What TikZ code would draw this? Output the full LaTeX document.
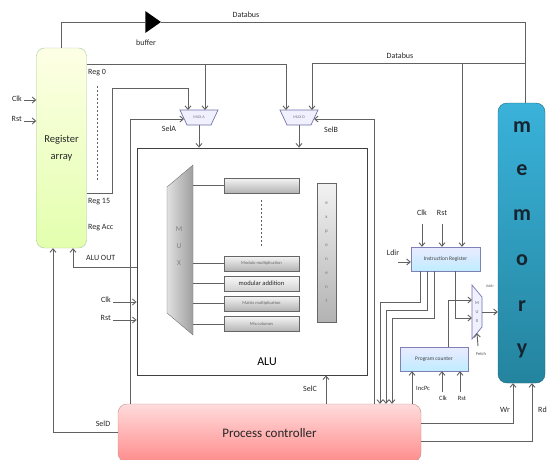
\documentclass[tikz,border=0pt]{standalone}
\usepackage{fontspec}
\setmainfont{Carlito}
\usetikzlibrary{arrows.meta,shapes.geometric}
\definecolor{memtop}{RGB}{58,178,218}
\definecolor{membot}{RGB}{36,132,158}
\definecolor{memtxt}{RGB}{22,36,48}
\begin{document}
\begin{tikzpicture}[x=1pt,y=-1pt,
  line/.style={draw=black!62, line width=0.9pt},
  arr/.style={line, -{Straight Barb[length=3.5pt,width=6pt]}},
  lbl/.style={font=\fontsize{8}{8.5}\selectfont, text=black!85, inner sep=0},
  gbox/.style={draw=black!60, top color=black!4, bottom color=black!30, minimum width=75, minimum height=15, inner sep=0, font=\fontsize{4.5}{5}\selectfont, text=black!60},
  bbox/.style={draw=blue!45!black!50, top color=blue!8, bottom color=blue!30!cyan!25, inner sep=0, font=\fontsize{5.5}{6}\selectfont, text=black!75},
  muxs/.style={draw=blue!40!black!55, fill=blue!6, line width=0.7pt},
]
\useasboundingbox (0,0) rectangle (547,459);

% ---------- main blocks ----------
\node[draw=green!40!black!35, top color=green!6!yellow!10, bottom color=green!35!yellow!32, rounded corners=8, minimum width=50, minimum height=200, inner sep=0, align=center, font=\fontsize{10.5}{17}\selectfont, text=black!85] (reg) at (61.5,148) {Register\\array};

\node[draw=membot!80!black, top color=memtop, bottom color=membot, rounded corners=9, minimum width=47, minimum height=280, inner sep=0] (mem) at (521.5,243) {};
\foreach \l/\yy in {m/127,e/170,m/215,o/260,r/306,y/351}
  \node[font=\bfseries\fontsize{22}{22}\selectfont, text=memtxt] at (522,\yy) {\l};

\node[draw=red!50!black!45, top color=red!14, bottom color=red!45, rounded corners=9, minimum width=303, minimum height=58, inner sep=0, font=\fontsize{13}{14}\selectfont, text=black!85] (ctrl) at (269.5,433) {Process controller};

\node[draw=black!75, line width=0.8pt, minimum width=230, minimum height=227, inner sep=0] (alu) at (252,261.5) {};
\node[font=\fontsize{12}{12}\selectfont] (alulbl) at (267,362) {ALU};

\node[bbox, minimum width=69, minimum height=24] (ir) at (445.5,259) {Instruction Register};
\node[bbox, minimum width=68, minimum height=24] (pcnt) at (434,359) {Program counter};

% buffer
\node[isosceles triangle, isosceles triangle apex angle=70, fill=black, inner sep=0, minimum height=14, minimum width=22] (buf) at (151,22) {};
\node[lbl] at (146,43) {buffer};

% ---------- MUX A / MUX D ----------
\draw[muxs] (180,110) -- (218,110) -- (211,125) -- (187,125) -- cycle;
\node[font=\fontsize{4}{4}\selectfont, text=black!55] (muxA) at (199,117) {MUX A};
\draw[muxs] (280,110) -- (318,110) -- (311,125) -- (287,125) -- cycle;
\node[font=\fontsize{4}{4}\selectfont, text=black!55] (muxD) at (299,117) {MUX D};
\coordinate (muxAin) at (184,119);
\coordinate (muxDin) at (314,119);

% ---------- ALU internals ----------
\draw[draw=black!55, left color=black!12, right color=black!38] (167,187) -- (193,165) -- (193,335) -- (167,313) -- cycle;
\node[align=center, font=\fontsize{7.5}{17}\selectfont, text=black!50] (bigmux) at (179,246) {M\\U\\X};
\coordinate (bmx) at (193,0);

\node[gbox] (tb) at (261.5,185.5) {};
\node[gbox] (mm) at (261.5,263.5) {Modulo multiplication};
\node[gbox, font=\fontsize{6.5}{7}\selectfont, text=black!85, top color=black!2, bottom color=black!18] (ma) at (261.5,283.5) {modular addition};
\node[gbox] (mx) at (261.5,303.5) {Matrix multiplication};
\node[gbox] (mc) at (261.5,324) {Mix columns};
\foreach \b in {tb,mm,ma,mx,mc} \draw[line] (bmx |- \b.west) -- (\b.west);
\draw[line, dashed, dash pattern=on 2pt off 2pt] (261,200) -- (261,246);

\node[draw=black!60, top color=black!5, bottom color=black!30, minimum width=19, minimum height=139, inner sep=0, align=center, font=\fontsize{5}{14}\selectfont, text=black!55] (expo) at (326.5,252.5) {e\\x\\p\\o\\n\\e\\n\\t};

% ---------- address MUX ----------
\draw[muxs] (472,285) -- (482,297) -- (482,327) -- (472,339) -- cycle;
\node[align=center, font=\fontsize{4.5}{9}\selectfont, text=black!60] (amux) at (477,312) {M\\U\\X};
\coordinate (amuxout) at (482,312);
\coordinate (amuxbot) at (477,333);
\node[font=\fontsize{4}{4}\selectfont, text=black!60] at (490,286) {Addr};

% ---------- buses ----------
\coordinate (busR) at (525,22);
\draw[line] (reg.north) |- (buf.west);
\draw[line] (buf.east) -| (mem.north -| busR);
\node[lbl] at (246,15) {Databus};

\coordinate (db2) at (525,63);
\draw[arr] (db2) -| (312,110);
\draw[arr] (462,63) -- (462,0 |- ir.north);
\node[lbl] at (400,56) {Databus};

% register outputs
\draw[arr] (reg.east |- 0,64) -| (286,110);
\draw[arr] (205,64) -- (205,110);
\node[lbl, anchor=west] at (88,73) {Reg 0};
\draw[line, dashed, dash pattern=on 1.5pt off 2.5pt, line width=0.7pt] (97,86) -- (97,182);
\draw[arr] (reg.east |- 0,193) -| (112,88) -| (188,110);
\node[lbl, anchor=west] at (88,202) {Reg 15};
\node[lbl, anchor=west] at (88,228) {Reg Acc};

% MUX outputs
\draw[arr] (199,125) -- (199,0 |- alu.north);
\draw[arr] (299,125) -- (299,0 |- alu.north);

% select lines
\draw[arr] (ctrl.north -| 130,0) |- (muxAin);
\node[lbl] at (169,129) {SelA};
\draw[arr] (ctrl.north -| 374,0) |- (muxDin);
\node[lbl] at (331,130) {SelB};
\draw[arr] (ctrl.north -| 326,0) -- (alu.south -| 326,0);
\node[lbl] at (310,389) {SelC};
\draw[arr] (ctrl.west |- 0,432) -| (53,0 |- reg.south);
\node[lbl] at (103,424) {SelD};

% ALU out
\draw[arr] (alu.west |- 0,267) -| (73,0 |- reg.south);
\node[lbl, anchor=west] at (86,258) {ALU OUT};

% clocks / resets
\draw[arr] (24,100) -- (reg.west |- 0,100);
\node[lbl, anchor=east] at (22,99) {Clk};
\draw[arr] (24,121) -- (reg.west |- 0,121);
\node[lbl, anchor=east] at (22,119) {Rst};
\draw[arr] (113,302) -- (alu.west |- 0,302);
\node[lbl, anchor=east] at (111,300) {Clk};
\draw[arr] (113,320) -- (alu.west |- 0,320);
\node[lbl, anchor=east] at (111,318) {Rst};

% instruction register inputs
\draw[arr] (422,224) -- (422,0 |- ir.north);
\node[lbl] at (422,213) {Clk};
\draw[arr] (442,224) -- (442,0 |- ir.north);
\node[lbl] at (442,213) {Rst};
\draw[arr] (398,262) -- (ir.west |- 0,262);
\node[lbl] at (393,253) {Ldir};

% instruction register to controller
\draw[arr] (420,0 |- ir.south) |- (380,302) -- (380,0 |- ctrl.north);
\draw[arr] (427,0 |- ir.south) |- (386,310) -- (386,0 |- ctrl.north);
\draw[arr] (434,0 |- ir.south) |- (392,318) -- (392,0 |- ctrl.north);

% to address mux
\draw[arr] (455,0 |- ir.south) |- (472,318);
\draw[arr] (448,0 |- pcnt.north) |- (472,300);
\draw[arr] (amuxout) -- (mem.west |- amuxout);
\draw[arr] (478,346) -- (amuxbot);
\node[font=\fontsize{4.5}{5}\selectfont, text=black!70] at (481,354) {Fetch};

% program counter inputs
\draw[arr] (ctrl.north -| 412,0) -- (412,0 |- pcnt.south);
\node[lbl, anchor=west, font=\fontsize{6.5}{7}\selectfont] at (416,388) {IncPc};
\draw[arr] (442,392) -- (442,0 |- pcnt.south);
\node[lbl, font=\fontsize{6.5}{7}\selectfont] at (443,398) {Clk};
\draw[arr] (460,392) -- (460,0 |- pcnt.south);
\node[lbl, font=\fontsize{6.5}{7}\selectfont] at (462,398) {Rst};

% memory control
\draw[arr] (ctrl.east |- 0,423) -| (513,0 |- mem.south);
\node[lbl] at (505,410) {Wr};
\draw[arr] (ctrl.east |- 0,441) -| (532,0 |- mem.south);
\node[lbl, anchor=west] at (538,410) {Rd};
\end{tikzpicture}
\end{document}
